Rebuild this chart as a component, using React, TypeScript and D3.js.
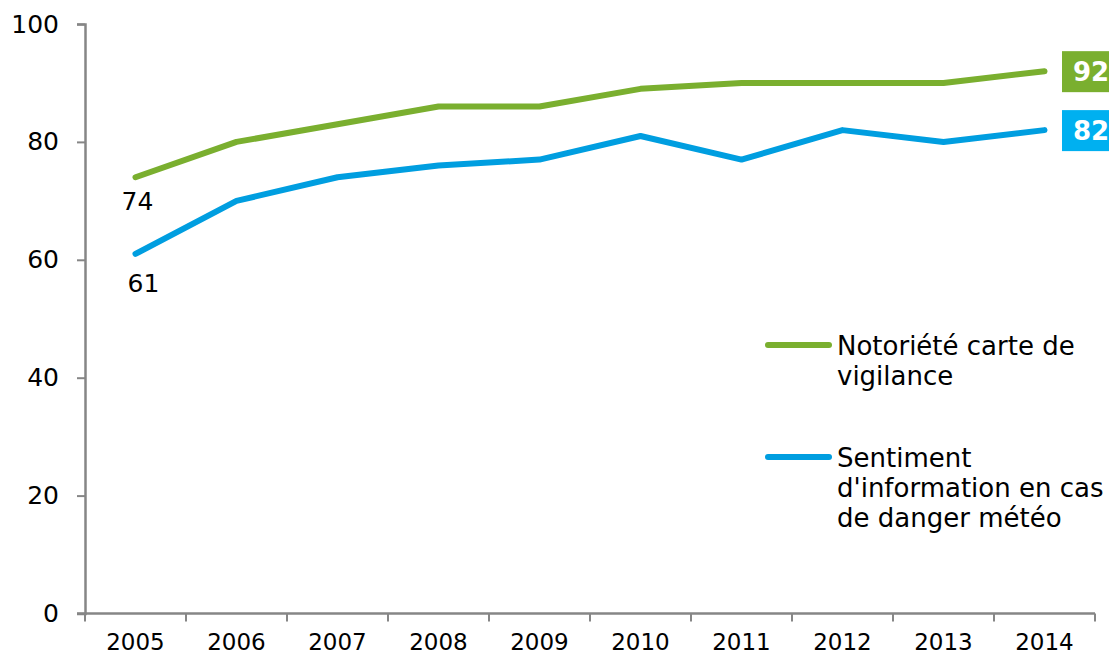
import React, { useEffect, useRef } from 'react';
import * as d3 from 'd3';

const years = ['2005', '2006', '2007', '2008', '2009', '2010', '2011', '2012', '2013', '2014'];
const notoriete = [74, 80, 83, 86, 86, 89, 90, 90, 90, 92];
const sentiment = [61, 70, 74, 76, 77, 81, 77, 82, 80, 82];
const yTicks = [0, 20, 40, 60, 80, 100];
const legendGreen = ['Notoriété carte de', 'vigilance'];
const legendBlue = ['Sentiment', "d'information en cas", 'de danger météo'];

const GREEN = '#7aaf2f';
const BLUE = '#009ee0';
const BLUE_BOX = '#00b0f0';
const FONT = 'Verdana, "DejaVu Sans", sans-serif';

export default function App() {
  const svgRef = useRef<SVGSVGElement>(null);

  useEffect(() => {
    const svg = d3.select(svgRef.current);
    svg.selectAll('*').remove();

    const width = 1109;
    const height = 657;
    const left = 85, right = 1095, top = 24, bottom = 613.5;

    const x = d3.scaleBand().domain(years).range([left, right]);
    const y = d3.scaleLinear().domain([0, 100]).range([bottom, top]);
    const cx = (d: string) => (x(d) as number) + x.bandwidth() / 2;

    svg.attr('width', width).attr('height', height);

    // Y axis
    const yAxis = svg.append('g')
      .attr('transform', `translate(${left},0)`)
      .call(d3.axisLeft(y).tickValues(yTicks).tickSize(8).tickPadding(18));
    yAxis.select('.domain').attr('stroke', '#868686').attr('stroke-width', 2.5);
    yAxis.selectAll('.tick line').attr('stroke', '#868686').attr('stroke-width', 2);
    yAxis.selectAll('.tick text')
      .attr('font-family', FONT).attr('font-size', 25).attr('fill', '#000');

    // X axis (ticks between categories)
    const xg = svg.append('g');
    xg.append('line')
      .attr('x1', left - 8).attr('x2', right)
      .attr('y1', bottom).attr('y2', bottom)
      .attr('stroke', '#868686').attr('stroke-width', 2.5);
    const edges = [...years.map(d => x(d) as number), right];
    xg.selectAll('line.tk').data(edges).join('line')
      .attr('class', 'tk')
      .attr('x1', d => d).attr('x2', d => d)
      .attr('y1', bottom).attr('y2', bottom + 8)
      .attr('stroke', '#868686').attr('stroke-width', 2);
    xg.selectAll('text').data(years).join('text')
      .attr('x', d => cx(d)).attr('y', 650)
      .attr('text-anchor', 'middle')
      .attr('font-family', FONT).attr('font-size', 23).attr('fill', '#000')
      .text(d => d);

    // Lines
    const line = d3.line<number>()
      .x((_, i) => cx(years[i]))
      .y(d => y(d));
    [[notoriete, GREEN], [sentiment, BLUE]].forEach(([data, color]) => {
      svg.append('path')
        .attr('d', line(data as number[]))
        .attr('fill', 'none')
        .attr('stroke', color as string)
        .attr('stroke-width', 6)
        .attr('stroke-linecap', 'round')
        .attr('stroke-linejoin', 'round');
    });

    // First-point labels
    svg.append('text')
      .attr('x', cx(years[0]) + 2).attr('y', y(notoriete[0]) + 33)
      .attr('text-anchor', 'middle')
      .attr('font-family', FONT).attr('font-size', 25).attr('fill', '#000')
      .text(notoriete[0]);
    svg.append('text')
      .attr('x', cx(years[0]) + 8).attr('y', y(sentiment[0]) + 38)
      .attr('text-anchor', 'middle')
      .attr('font-family', FONT).attr('font-size', 25).attr('fill', '#000')
      .text(sentiment[0]);

    // End value boxes
    const last = years.length - 1;
    [[notoriete[last], GREEN], [sentiment[last], BLUE_BOX]].forEach(([v, color]) => {
      const yy = y(v as number);
      svg.append('rect')
        .attr('x', 1062).attr('y', yy - 20)
        .attr('width', 60).attr('height', 41)
        .attr('fill', color as string);
      svg.append('text')
        .attr('x', 1073).attr('y', yy + 10)
        .attr('font-family', FONT).attr('font-size', 26).attr('font-weight', 'bold')
        .attr('fill', '#fff')
        .text(v as number);
    });

    // Legend
    const legend = [
      { lines: legendGreen, color: GREEN, y: 345 },
      { lines: legendBlue, color: BLUE, y: 457 }
    ];
    legend.forEach(item => {
      svg.append('line')
        .attr('x1', 768).attr('x2', 829)
        .attr('y1', item.y).attr('y2', item.y)
        .attr('stroke', item.color).attr('stroke-width', 6)
        .attr('stroke-linecap', 'round');
      const t = svg.append('text')
        .attr('font-family', FONT).attr('font-size', 26).attr('fill', '#000');
      item.lines.forEach((s, i) => {
        t.append('tspan').attr('x', 837).attr('y', item.y + 10 + i * 30).text(s);
      });
    });
  }, []);

  return <svg ref={svgRef} style={{ position: 'absolute', left: 0, top: 0 }} />;
}
